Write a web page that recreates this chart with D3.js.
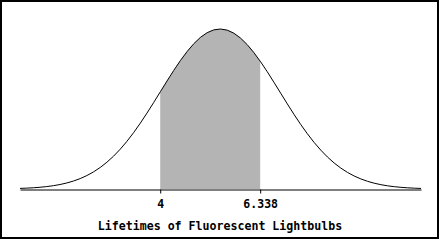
<!DOCTYPE html>
<html>
<head>
<meta charset="utf-8">
<script src="https://cdn.jsdelivr.net/npm/d3@7"></script>
<style>
  body { margin: 0; background: #fff; }
  text { font-family: "DejaVu Sans Mono", "Liberation Mono", monospace; font-weight: bold; fill: #000; }
</style>
</head>
<body>
<svg id="chart" width="440" height="240"></svg>
<script>
// distribution
const mean = 5.4;
const sd = 1.4;
const axisDomain = [0.72, 10.1];
const shadeBounds = [4, 6.338];
const tickLabels = ["4", "6.338"];
const title = "Lifetimes of Fluorescent Lightbulbs";

const width = 440, height = 240;
const baseY = 189, topY = 29;

const svg = d3.select("#chart");

// frame
svg.append("rect")
  .attr("x", 1).attr("y", 1)
  .attr("width", width - 3).attr("height", height - 3)
  .attr("fill", "#fff")
  .attr("stroke", "#000")
  .attr("stroke-width", 2);

const x = d3.scaleLinear().domain(axisDomain).range([20, 421]);

const pdf = v => Math.exp(-0.5 * Math.pow((v - mean) / sd, 2)) / (sd * Math.sqrt(2 * Math.PI));

const y = d3.scaleLinear().domain([0, pdf(mean)]).range([baseY, topY]);

// sample curve
const step = (axisDomain[1] - axisDomain[0]) / 60;
const pts = d3.range(axisDomain[0], axisDomain[1] + step / 2, step).map(v => ({v: v, d: pdf(v)}));

// shaded area between bounds
const shadePts = d3.range(shadeBounds[0], shadeBounds[1], (shadeBounds[1] - shadeBounds[0]) / 40)
  .concat([shadeBounds[1]])
  .map(v => ({v: v, d: pdf(v)}));

const area = d3.area()
  .x(p => x(p.v))
  .y0(y(0))
  .y1(p => y(p.d));

svg.append("path")
  .datum(shadePts)
  .attr("d", area)
  .attr("fill", "#b4b4b4");

// density curve
const line = d3.line()
  .x(p => x(p.v))
  .y(p => y(p.d));

svg.append("path")
  .datum(pts)
  .attr("d", line)
  .attr("fill", "none")
  .attr("stroke", "#000")
  .attr("stroke-width", 1);

// axis with ticks only at shade bounds
const axis = d3.axisBottom(x)
  .tickValues(shadeBounds)
  .tickFormat((d, i) => tickLabels[i])
  .tickSize(4)
  .tickSizeOuter(0);

const g = svg.append("g")
  .attr("transform", "translate(0," + (baseY + 0.5) + ")")
  .call(axis);

g.select(".domain").attr("stroke", "#000").attr("stroke-width", 1.2);
g.selectAll(".tick line").attr("stroke", "#000");
g.selectAll(".tick text")
  .attr("y", 10)
  .attr("fill", "#000")
  .style("font-family", "'DejaVu Sans Mono', monospace")
  .style("font-weight", "bold")
  .style("font-size", "11.5px");

svg.append("text")
  .attr("x", 220)
  .attr("y", 230)
  .attr("text-anchor", "middle")
  .style("font-size", "11.6px")
  .text(title);
</script>
</body>
</html>
